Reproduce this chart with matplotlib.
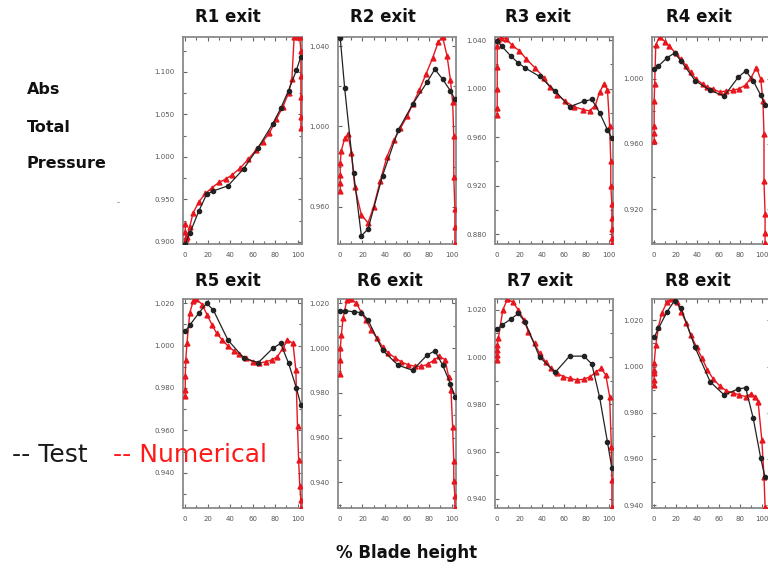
import matplotlib
matplotlib.use("Agg")
import matplotlib.pyplot as plt
from matplotlib.ticker import MultipleLocator, FixedLocator, FormatStrFormatter

plt.rcParams['font.family'] = ['DejaVu Sans']

# ---------------- data ----------------
panels = ["R1 exit", "R2 exit", "R3 exit", "R4 exit",
          "R5 exit", "R6 exit", "R7 exit", "R8 exit"]

test_x = [0, 4, 12, 19, 25, 38, 52, 65, 78, 85, 92, 99, 103]

R1_test = [0.898, 0.910, 0.936, 0.956, 0.960, 0.966, 0.986, 1.011, 1.039, 1.057, 1.078, 1.102, 1.118]
R2_test = [1.044, 1.019, 0.977, 0.9455, 0.949, 0.9755, 0.998, 1.011, 1.022, 1.0285, 1.0235, 1.0177, 1.0135]
R3_test = [1.039, 1.035, 1.027, 1.021, 1.017, 1.010, 0.998, 0.985, 0.9895, 0.991, 0.980, 0.966, 0.959]
R4_test = [1.006, 1.008, 1.013, 1.016, 1.011, 0.999, 0.993, 0.9895, 1.001, 1.005, 0.9988, 0.990, 0.984]
R5_test = [1.0067, 1.0096, 1.0152, 1.0199, 1.0167, 1.0026, 0.9942, 0.9919, 0.9987, 1.001, 0.9917, 0.980, 0.972]
R6_test = [1.0168, 1.0168, 1.0163, 1.0159, 1.0126, 0.9991, 0.9924, 0.9901, 0.9969, 0.9988, 0.9924, 0.9841, 0.9781]
R7_test = [1.0117, 1.0135, 1.016, 1.0185, 1.0149, 1.0001, 0.9935, 1.0004, 1.0004, 0.997, 0.9829, 0.9641, 0.9529]
R8_test = [1.0126, 1.0165, 1.0237, 1.0285, 1.0252, 1.0083, 0.9934, 0.9877, 0.9903, 0.9908, 0.9776, 0.9603, 0.952]

R1_num_x = [0, 0, 0.5, 1, 2, 4, 7, 12, 18, 24, 30, 36, 42, 49, 56, 63, 69, 75, 81, 87,
            92, 95, 97, 100, 102, 103, 103, 103, 103, 103]
R1_num_y = [0.921, 0.912, 0.906, 0.903, 0.906, 0.918, 0.934, 0.947, 0.957, 0.964,
            0.970, 0.974, 0.979, 0.987, 0.997, 1.008, 1.018, 1.028, 1.044, 1.059,
            1.075, 1.092, 1.141, 1.141, 1.141, 1.125, 1.095, 1.070, 1.047, 1.034]

R2_num_x = [0, 0, 0, 0, 1, 4, 7, 10, 13, 19, 25, 30, 36, 42, 48, 54, 60, 65, 71, 77,
            83, 88, 92, 96, 99, 101, 102, 102, 103, 103, 103]
R2_num_y = [0.968, 0.972, 0.976, 0.982, 0.988, 0.994, 0.996, 0.987, 0.970, 0.956,
            0.952, 0.960, 0.973, 0.985, 0.993, 0.999, 1.005, 1.011, 1.018, 1.026,
            1.034, 1.042, 1.0445, 1.035, 1.023, 1.012, 0.995, 0.975, 0.959, 0.950, 0.9415]

R3_num_x = [0, 0, 0, 0, 0, 1, 3, 8, 13, 20, 26, 34, 42, 47, 54, 61, 69, 77, 83, 88,
            92, 96, 99, 101, 102, 102, 103, 103, 103, 103, 103]
R3_num_y = [0.978, 0.984, 1.000, 1.018, 1.035, 1.040, 1.042, 1.041, 1.036, 1.031,
            1.0245, 1.017, 1.009, 1.0014, 0.995, 0.9895, 0.985, 0.9827, 0.9815, 0.986,
            0.997, 1.004, 0.999, 0.969, 0.940, 0.920, 0.905, 0.893, 0.884, 0.877, 0.8718]

R4_num_x = [0, 0, 0, 0, 0.5, 1.5, 5, 10, 14, 20, 25, 30, 34, 39, 45, 49, 55, 61, 67, 73,
            79, 85, 90, 95, 99, 101, 102, 102, 103, 103, 103]
R4_num_y = [0.962, 0.967, 0.971, 0.9865, 0.997, 1.021, 1.0258, 1.023, 1.020, 1.016,
            1.012, 1.008, 1.004, 0.9998, 0.997, 0.995, 0.9937, 0.992, 0.9926, 0.993,
            0.994, 0.9963, 1.0008, 1.007, 0.9998, 0.9865, 0.966, 0.937, 0.917, 0.905, 0.899]

R5_num_x = [0, 0, 0, 0.5, 1.5, 4, 7, 10, 15, 19.5, 24, 28, 33, 38, 43, 48, 54, 60, 66, 72,
            77, 82, 87, 91, 96, 98.5, 100, 101, 102, 103, 103]
R5_num_y = [0.976, 0.979, 0.9855, 0.9934, 1.001, 1.0152, 1.0208, 1.0219, 1.0193, 1.0144,
            1.0096, 1.0057, 1.0026, 0.9998, 0.9976, 0.9959, 0.994, 0.9924, 0.9917, 0.9924,
            0.9932, 0.9947, 0.9987, 1.0026, 1.001, 0.9885, 0.962, 0.946, 0.934, 0.9275, 0.9235]

R6_num_x = [0, 0, 0, 1, 2.5, 6, 10, 14.5, 19, 23, 28, 33, 38, 43, 49, 55, 61, 67, 73, 78.5,
            84, 89, 94, 97.5, 99.5, 101, 102, 102, 103, 103]
R6_num_y = [0.9886, 0.9946, 0.9999, 1.0058, 1.0133, 1.0216, 1.0220, 1.0201, 1.016, 1.0126,
            1.0081, 1.0044, 1.0006, 0.9979, 0.9958, 0.9938, 0.9926, 0.9919, 0.9919, 0.9928,
            0.9946, 0.9964, 0.9949, 0.9871, 0.9811, 0.9646, 0.9497, 0.9407, 0.9340, 0.9285]

R7_num_x = [0, 0, 0, 0, 1, 5, 9, 14, 19, 24, 28, 33.5, 38, 43.5, 48.5, 54, 59.5, 65.5, 71.5, 77.5,
            83.5, 89, 93.5, 97.5, 101, 102.5, 103, 103]
R7_num_y = [0.9987, 1.0008, 1.003, 1.0051, 1.008, 1.0199, 1.0244, 1.0234, 1.0199, 1.0157,
            1.0107, 1.0058, 1.0016, 0.998, 0.9952, 0.9931, 0.9917, 0.991, 0.9903, 0.9906,
            0.9917, 0.9938, 0.9952, 0.9924, 0.9832, 0.962, 0.948, 0.9364]

R8_num_x = [0, 0, 0, 0, 0, 1.5, 4, 7, 12, 16, 21, 25, 30, 34, 39.5, 44.5, 49.5, 55, 61, 67,
            73, 79, 85, 90, 93.5, 96.5, 100, 102, 103]
R8_num_y = [0.992, 0.9942, 0.9971, 0.9985, 1.0014, 1.0093, 1.0172, 1.023, 1.028, 1.029,
            1.028, 1.0237, 1.0187, 1.0136, 1.0083, 1.0035, 0.9985, 0.9945, 0.9916, 0.9895,
            0.9887, 0.9877, 0.987, 0.9881, 0.987, 0.9848, 0.9682, 0.9523, 0.9394]

tests = [R1_test, R2_test, R3_test, R4_test, R5_test, R6_test, R7_test, R8_test]
nums = [(R1_num_x, R1_num_y), (R2_num_x, R2_num_y), (R3_num_x, R3_num_y), (R4_num_x, R4_num_y),
        (R5_num_x, R5_num_y), (R6_num_x, R6_num_y), (R7_num_x, R7_num_y), (R8_num_x, R8_num_y)]

ylims = [(0.8976, 1.141), (0.9415, 1.0445), (0.8718, 1.0425), (0.8985, 1.0258),
         (0.9235, 1.0219), (0.9285, 1.022), (0.9361, 1.0246), (0.9388, 1.0292)]
yticks = [[0.900, 0.950, 1.000, 1.050, 1.100],
          [0.960, 1.000, 1.040],
          [0.880, 0.920, 0.960, 1.000, 1.040],
          [0.920, 0.960, 1.000],
          [0.940, 0.960, 0.980, 1.000, 1.020],
          [0.940, 0.960, 0.980, 1.000, 1.020],
          [0.940, 0.960, 0.980, 1.000, 1.020],
          [0.940, 0.960, 0.980, 1.000, 1.020]]
yminor = [0.025, 0.02, 0.02, 0.02, 0.01, 0.01, 0.01, 0.01]
xticks = [0, 20, 40, 60, 80, 100]

# ---------------- layout (pixels) ----------------
W, H = 768, 569
fig = plt.figure(figsize=(W / 100, H / 100), dpi=100)

col_left = [183, 338, 495, 652]
col_w = [119, 118, 118, 119]
col_xmax = [104, 104, 104, 108.5]
row_top = [37, 299]
row_bot = [244, 508]
title_x = [228, 383, 538, 699, 228, 390, 540, 698]
title_y = [17, 281]

def fx(x):
    return x / W

def fy(y):
    return 1 - y / H

RED = '#e8161e'
BLK = '#222222'

for i in range(8):
    r, c = divmod(i, 4)
    l = col_left[c]
    w = col_w[c]
    t, b = row_top[r], row_bot[r]
    ax = fig.add_axes([fx(l), fy(b), w / W, (b - t) / H])
    nx, ny = nums[i]
    ax.plot(nx, ny, color=RED, lw=1.0, marker='^', ms=3.5, mfc=RED, mec=RED, zorder=3)
    ax.plot(test_x, tests[i], color=BLK, lw=0.9, marker='o', ms=3.0, mfc=BLK, mec=BLK, zorder=4)
    ax.set_xlim(-2, col_xmax[c])
    ax.set_ylim(*ylims[i])
    ax.xaxis.set_major_locator(FixedLocator(xticks))
    ax.xaxis.set_minor_locator(FixedLocator([10, 30, 50, 70, 90]))
    ax.yaxis.set_major_locator(FixedLocator(yticks[i]))
    ax.yaxis.set_minor_locator(MultipleLocator(yminor[i]))
    ax.yaxis.set_major_formatter(FormatStrFormatter('%.3f'))
    ax.xaxis.set_major_formatter(FormatStrFormatter('%d'))
    ax.tick_params(which='both', direction='in', top=True, right=True, color='#666666', width=0.8)
    ax.tick_params(which='major', length=3, labelsize=5, labelcolor='#555555', pad=6)
    ax.tick_params(which='minor', length=2)
    for s in ax.spines.values():
        s.set_color('#8a8a8a')
        s.set_linewidth(1.3)
    fig.text(fx(title_x[i]), fy(title_y[r]), panels[i], ha='center', va='center',
             fontsize=12, fontweight='bold', color='#111111')

# side labels
for txt, yy in [("Abs", 90), ("Total", 127), ("Pressure", 163)]:
    fig.text(fx(27), fy(yy), txt, ha='left', va='center', fontsize=11.5,
             fontweight='bold', color='#111111')
fig.text(fx(118), fy(203), "-", ha='center', va='center', fontsize=6, color='#777777')

fig.text(fx(12), fy(455), "-- Test", ha='left', va='center', fontsize=18, color='#1a1a1a')
fig.text(fx(113), fy(455), "-- Numerical", ha='left', va='center', fontsize=18, color='#ff1a1a')

fig.text(fx(407), fy(553), "% Blade height", ha='center', va='center', fontsize=12,
         fontweight='bold', color='#111111')

fig.savefig("out.png", dpi=100)
